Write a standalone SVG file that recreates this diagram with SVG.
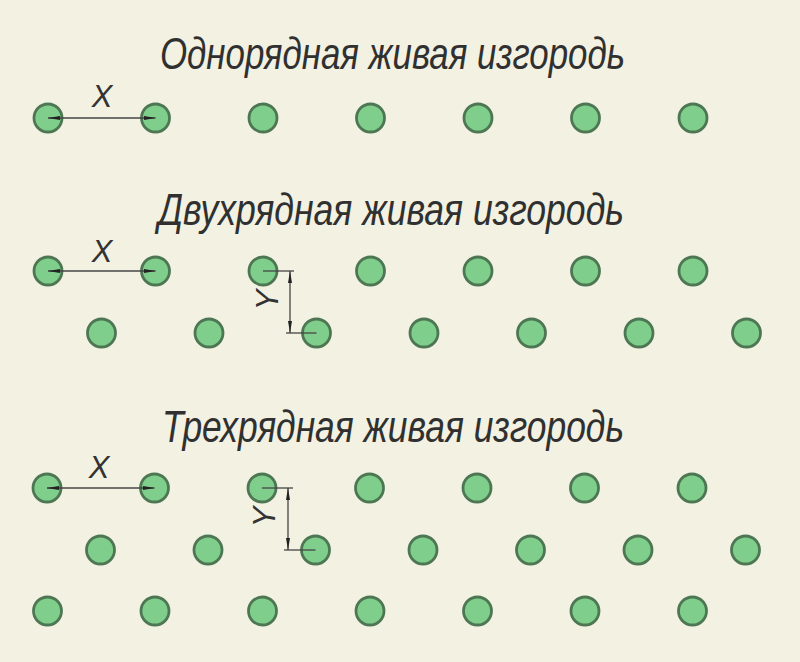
<svg xmlns="http://www.w3.org/2000/svg" width="800" height="662" viewBox="0 0 800 662">
<defs>
<style>
.t{font-family:"Liberation Sans Narrow","Liberation Sans","DejaVu Sans",sans-serif;font-style:italic;font-size:45px;fill:#303030;}
.lbl{font-family:"Liberation Sans Narrow","Liberation Sans","DejaVu Sans",sans-serif;font-style:italic;font-size:31px;fill:#333;}
.p{fill:#7fce8b;stroke:#4d7753;stroke-width:2.8;}
.d{stroke:#444;stroke-width:1.3;fill:none;}
.dim{stroke:#444;stroke-width:1.3;fill:none;marker-start:url(#ar);marker-end:url(#ar);}
</style>
<marker id="ar" viewBox="0 0 12 4" refX="12" refY="2" markerWidth="12" markerHeight="4" markerUnits="userSpaceOnUse" orient="auto-start-reverse">
<path d="M0,0 L12,2 L0,4 z" fill="#222"/>
</marker>
</defs>
<rect width="800" height="662" fill="#f2f1e2"/>

<g id="title1"><text class="t" x="160" y="69" textLength="465" lengthAdjust="spacingAndGlyphs">Однорядная живая изгородь</text></g>
<g id="title2"><text class="t" x="158" y="225" textLength="466" lengthAdjust="spacingAndGlyphs">Двухрядная живая изгородь</text></g>
<g id="title3"><text class="t" x="162" y="442" textLength="462" lengthAdjust="spacingAndGlyphs">Трехрядная живая изгородь</text></g>

<g id="row1">
<circle class="p" cx="48" cy="118" r="14"/><circle class="p" cx="155.5" cy="118" r="14"/><circle class="p" cx="263" cy="118" r="14"/><circle class="p" cx="370.5" cy="118" r="14"/><circle class="p" cx="478" cy="118" r="14"/><circle class="p" cx="585.5" cy="118" r="14"/><circle class="p" cx="693" cy="118" r="14"/>
</g>
<g id="row2">
<circle class="p" cx="48" cy="271" r="14"/><circle class="p" cx="155.5" cy="271" r="14"/><circle class="p" cx="263" cy="271" r="14"/><circle class="p" cx="370.5" cy="271" r="14"/><circle class="p" cx="478" cy="271" r="14"/><circle class="p" cx="585.5" cy="271" r="14"/><circle class="p" cx="693" cy="271" r="14"/>
<circle class="p" cx="101.5" cy="333" r="14"/><circle class="p" cx="209" cy="333" r="14"/><circle class="p" cx="316.5" cy="333" r="14"/><circle class="p" cx="424" cy="333" r="14"/><circle class="p" cx="531.5" cy="333" r="14"/><circle class="p" cx="639" cy="333" r="14"/><circle class="p" cx="746.5" cy="333" r="14"/>
</g>
<g id="row3">
<circle class="p" cx="47" cy="488" r="14"/><circle class="p" cx="154.5" cy="488" r="14"/><circle class="p" cx="262" cy="488" r="14"/><circle class="p" cx="369.5" cy="488" r="14"/><circle class="p" cx="477" cy="488" r="14"/><circle class="p" cx="584.5" cy="488" r="14"/><circle class="p" cx="692" cy="488" r="14"/>
<circle class="p" cx="100.5" cy="550" r="14"/><circle class="p" cx="208" cy="550" r="14"/><circle class="p" cx="315.5" cy="550" r="14"/><circle class="p" cx="423" cy="550" r="14"/><circle class="p" cx="530.5" cy="550" r="14"/><circle class="p" cx="638" cy="550" r="14"/><circle class="p" cx="745.5" cy="550" r="14"/>
<circle class="p" cx="47.5" cy="611" r="14"/><circle class="p" cx="155" cy="611" r="14"/><circle class="p" cx="262.5" cy="611" r="14"/><circle class="p" cx="370" cy="611" r="14"/><circle class="p" cx="477.5" cy="611" r="14"/><circle class="p" cx="585" cy="611" r="14"/><circle class="p" cx="692.5" cy="611" r="14"/>
</g>

<g id="connectors">
<line class="dim" x1="48" y1="118" x2="155.5" y2="118"/>
<line class="dim" x1="48" y1="271" x2="155.5" y2="271"/>
<line class="dim" x1="47" y1="488" x2="154.5" y2="488"/>
<line class="d" x1="263" y1="271" x2="294" y2="271"/>
<line class="d" x1="286" y1="333" x2="316.5" y2="333"/>
<line class="dim" x1="290" y1="271" x2="290" y2="333"/>
<line class="d" x1="262" y1="488" x2="293" y2="488"/>
<line class="d" x1="284" y1="550" x2="315.5" y2="550"/>
<line class="dim" x1="288" y1="488" x2="288" y2="550"/>
</g>

<g id="labels">
<text class="lbl" x="102" y="107" text-anchor="middle">X</text>
<text class="lbl" x="102" y="262" text-anchor="middle">X</text>
<text class="lbl" x="99" y="478" text-anchor="middle">X</text>
<text class="lbl" transform="translate(278,300) rotate(-90)" text-anchor="middle">Y</text>
<text class="lbl" transform="translate(275,517) rotate(-90)" text-anchor="middle">Y</text>
</g>
</svg>
